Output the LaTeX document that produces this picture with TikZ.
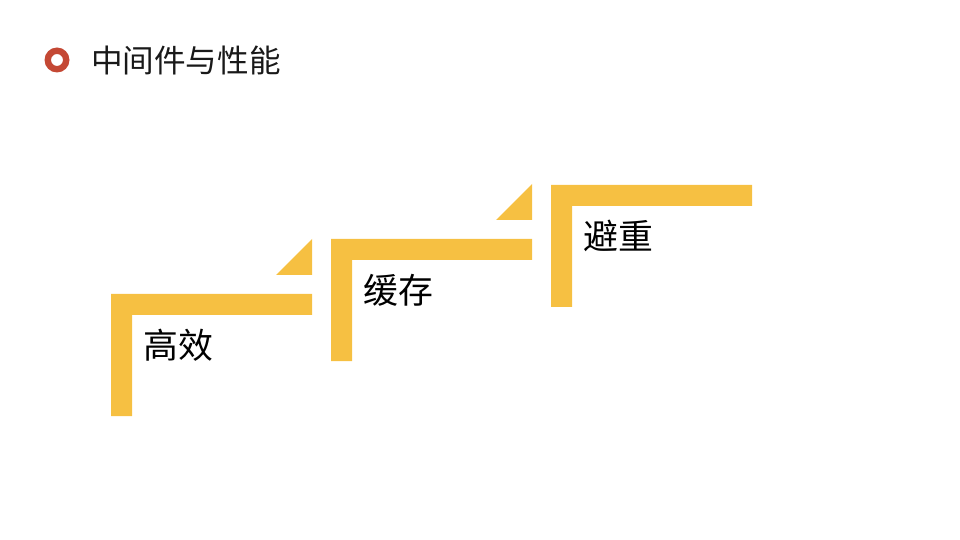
\documentclass[tikz,border=0pt]{standalone}
\usepackage{fontspec}
\setmainfont{Noto Sans CJK SC}
\usepackage{xcolor}
\usetikzlibrary{calc}
\definecolor{stepYellow}{RGB}{246,192,66}
\definecolor{dotRed}{RGB}{196,72,52}

\begin{document}
\begin{tikzpicture}[x=1bp, y=-1bp, every node/.style={inner sep=0pt, anchor=west}]
  \useasboundingbox (0,0) rectangle (960,540);
  % heading
  \fill[dotRed, even odd rule] (57,60) circle (12.5) (57,60) circle (6);
  \node[font=\fontsize{31.7}{36}\selectfont, text=black!90] (title) at (91,60) {中间件与性能};
  % first step
  \fill[stepYellow] (111,294) -- (312,294) -- (312,315) -- (132,315) -- (132,416) -- (111,416) -- cycle;
  \fill[stepYellow] (276,275) -- (312,275) -- (312,239) -- cycle;
  \node[font=\fontsize{35}{40}\selectfont] (gaoxiao) at (143,345) {高效};
  % second step
  \fill[stepYellow] (331,239) -- (532,239) -- (532,260) -- (352,260) -- (352,361) -- (331,361) -- cycle;
  \fill[stepYellow] (496,220) -- (532,220) -- (532,184) -- cycle;
  \node[font=\fontsize{35}{40}\selectfont] (huancun) at (363,290) {缓存};
  % third step
  \fill[stepYellow] (551,185) -- (752,185) -- (752,206) -- (572,206) -- (572,307) -- (551,307) -- cycle;
  \node[font=\fontsize{35}{40}\selectfont] (bizhong) at (583,236) {避重};
\end{tikzpicture}
\end{document}
